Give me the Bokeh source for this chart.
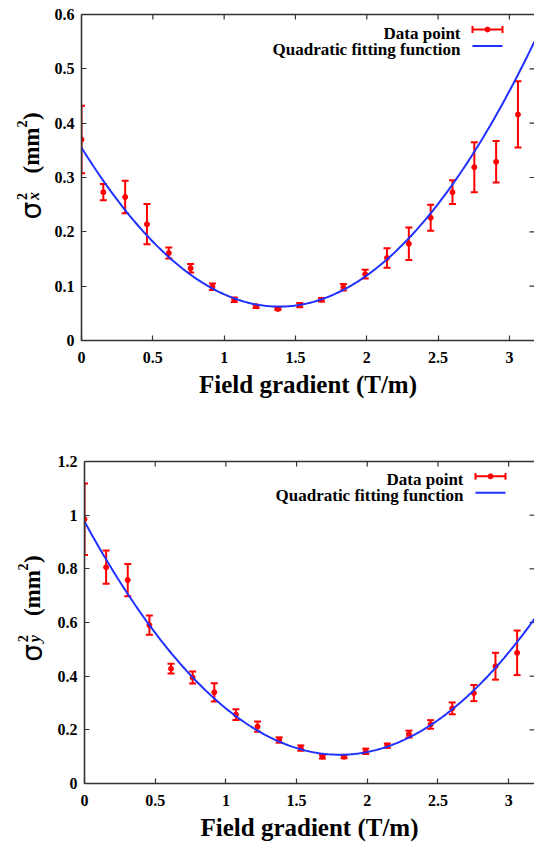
import numpy as np
from bokeh.plotting import figure
from bokeh.layouts import column, row
from bokeh.models import (Range1d, LinearAxis, FixedTicker, Whisker, TeeHead,
                          ColumnDataSource, Label)
from bokeh.embed import file_html
from bokeh.resources import INLINE

# ---------------- data ----------------
field_gradient = [0.000, 0.153, 0.306, 0.459, 0.612, 0.765, 0.918, 1.071, 1.224, 1.377,
                  1.530, 1.683, 1.836, 1.989, 2.142, 2.295, 2.448, 2.601, 2.754, 2.907, 3.060]

sigma_x2 = [0.370, 0.273, 0.264, 0.214, 0.161, 0.133, 0.099, 0.075, 0.063, 0.058,
            0.065, 0.075, 0.098, 0.122, 0.152, 0.178, 0.226, 0.273, 0.319, 0.329, 0.416]
sigma_x2_err = [0.062, 0.015, 0.030, 0.037, 0.010, 0.008, 0.006, 0.004, 0.003, 0.002,
                0.004, 0.003, 0.006, 0.008, 0.018, 0.030, 0.024, 0.022, 0.046, 0.038, 0.061]

sigma_y2 = [0.985, 0.806, 0.758, 0.590, 0.428, 0.395, 0.340, 0.257, 0.212, 0.162,
            0.132, 0.100, 0.100, 0.120, 0.141, 0.184, 0.220, 0.280, 0.337, 0.437, 0.487]
sigma_y2_err = [0.133, 0.062, 0.060, 0.036, 0.018, 0.022, 0.034, 0.020, 0.019, 0.010,
                0.010, 0.007, 0.006, 0.010, 0.008, 0.013, 0.016, 0.022, 0.030, 0.050, 0.083]

# quadratic fit coefficients c0 + c1*g + c2*g^2
fit_x_coeffs = [0.355, -0.4222, 0.1523]
fit_y_coeffs = [0.976, -0.9627, 0.2667]

x_ticks = [0, 0.5, 1, 1.5, 2, 2.5, 3]
x_tick_labels = ["0", "0.5", "1", "1.5", "2", "2.5", "3"]
yx_ticks = [0, 0.1, 0.2, 0.3, 0.4, 0.5, 0.6]
yx_tick_labels = ["0", "0.1", "0.2", "0.3", "0.4", "0.5", "0.6"]
yy_ticks = [0, 0.2, 0.4, 0.6, 0.8, 1, 1.2]
yy_tick_labels = ["0", "0.2", "0.4", "0.6", "0.8", "1", "1.2"]

legend_labels = ["Data point", "Quadratic fitting function"]
x_axis_label = "Field gradient (T/m)"

# ---------------- style ----------------
SERIF = "Liberation Serif"
RED = "#ff0000"
BLUE = "#2030ff"
AXIS = "#333333"
PAGE_W = 534
LW = 50          # width of the strip that carries the rotated y label
TICK = 5         # inward tick length, px


def make_row(height, frame_left, mbt, mbb, x_end, y_end, vals, errs, coeffs,
             yticks, ylabels, sub, lab_dx, lab_dy):
    W = PAGE_W - LW
    mbl = frame_left - LW
    fw = W - mbl
    fh = height - mbt - mbb
    xr = (0.0, x_end)
    yr = (0.0, y_end)
    px_x = (xr[1] - xr[0]) / fw
    px_y = (yr[1] - yr[0]) / fh

    def to_data(px, py):  # px from frame left, py from frame top
        return xr[0] + px * px_x, yr[1] - py * px_y

    p = figure(width=W, height=height, x_range=Range1d(*xr), y_range=Range1d(*yr),
               output_backend="svg", toolbar_location=None,
               min_border_left=mbl, min_border_right=0, min_border_top=mbt,
               min_border_bottom=mbb, outline_line_color=None)
    p.grid.visible = False

    def style(ax, ticks, labels):
        ax.ticker = FixedTicker(ticks=ticks)
        ax.major_label_overrides = dict(zip(ticks, labels))
        ax.major_tick_in = TICK
        ax.major_tick_out = 0
        ax.minor_tick_line_color = None
        ax.axis_line_color = AXIS
        ax.axis_line_width = 1.6
        ax.major_tick_line_color = AXIS
        ax.major_tick_line_width = 1.2
        ax.major_label_text_font = SERIF
        ax.major_label_text_font_style = "bold"
        ax.major_label_text_font_size = "16px"
        ax.major_label_text_color = "black"

    xa = p.xaxis[0]
    style(xa, x_ticks, x_tick_labels)
    xa.major_label_standoff = 11
    xa.axis_label = x_axis_label
    xa.axis_label_text_font = SERIF
    xa.axis_label_text_font_style = "bold"
    xa.axis_label_text_font_size = "25px"
    xa.axis_label_text_color = "black"
    xa.axis_label_standoff = 5

    ya = p.yaxis[0]
    style(ya, yticks, ylabels)
    ya.major_label_standoff = 7

    # top spine (no ticks/labels on the axis itself)
    top = LinearAxis(ticker=FixedTicker(ticks=[]), axis_line_color=AXIS, axis_line_width=1.6,
                     major_tick_line_color=None, minor_tick_line_color=None)
    p.add_layout(top, "above")

    # inward mirror ticks on top and right edges
    tx = [t for t in x_ticks if 0 < t < x_end]
    p.segment(x0=tx, y0=[y_end] * len(tx), x1=tx, y1=[y_end - TICK * px_y] * len(tx),
              line_color=AXIS, line_width=1.2)
    ty = [t for t in yticks if 0 < t < y_end]
    p.segment(x0=[x_end] * len(ty), y0=ty, x1=[x_end - TICK * px_x] * len(ty), y1=ty,
              line_color=AXIS, line_width=1.2)

    g = np.array(field_gradient)
    v = np.array(vals)
    e = np.array(errs)
    src = ColumnDataSource(dict(x=g, y=v, upper=v + e, lower=v - e))
    p.add_layout(Whisker(source=src, base="x", upper="upper", lower="lower",
                         line_color=RED, line_width=2,
                         upper_head=TeeHead(size=7, line_color=RED, line_width=2),
                         lower_head=TeeHead(size=7, line_color=RED, line_width=2)))
    p.scatter("x", "y", source=src, size=5, color=RED)

    gx = np.linspace(0, x_end, 300)
    fy = coeffs[0] + coeffs[1] * gx + coeffs[2] * gx ** 2
    p.line(gx, fy, line_color=BLUE, line_width=2)

    # ----- gnuplot-style legend (text right, sample right of it) -----
    tr = 455 - 76          # text right edge, px from frame left
    for i, lab in enumerate(legend_labels):
        x, y = to_data(tr, 18.5 + 16 * i)
        p.add_layout(Label(x=x, y=y, text=lab, text_font=SERIF, text_font_style="bold",
                           text_font_size="17px", text_align="right",
                           text_baseline="alphabetic", text_color="black"))
    s0, s1 = tr + 12, tr + 42
    x0, y0 = to_data(s0, 15)
    x1, _ = to_data(s1, 15)
    cap = 3.5 * px_y
    p.segment(x0=[x0], y0=[y0], x1=[x1], y1=[y0], line_color=RED, line_width=2)
    p.segment(x0=[x0, x1], y0=[y0 - cap] * 2, x1=[x0, x1], y1=[y0 + cap] * 2,
              line_color=RED, line_width=2)
    p.scatter(x=[(x0 + x1) / 2], y=[y0], size=5, color=RED)
    bx0, by = to_data(s0, 31.5)
    bx1, _ = to_data(s1, 31.5)
    p.line([bx0, bx1], [by, by], line_color=BLUE, line_width=2)

    # ----- strip with the rotated y-axis label (frame aligned with p's frame) -----
    q = figure(width=LW, height=height, x_range=Range1d(0, LW), y_range=Range1d(0, fh),
               output_backend="svg", toolbar_location=None, x_axis_type=None,
               y_axis_type=None, min_border_left=0, min_border_right=0,
               min_border_top=mbt, min_border_bottom=mbb, outline_line_color=None)
    q.grid.visible = False

    def rot(x, dy, text, font, size, fstyle="bold"):
        q.add_layout(Label(x=x + lab_dx, y=dy + lab_dy, text=text, text_font=font,
                           text_font_style=fstyle, text_font_size=size, angle=np.pi / 2,
                           text_align="left", text_baseline="alphabetic",
                           text_color="black"))

    rot(31, 121, "σ", "DejaVu Sans", "28px", "normal")
    rot(21, 140.5, "2", SERIF, "14px")
    rot(33, 140.5, sub, SERIF, "16px", "bold italic")
    rot(31, 167, "(mm", SERIF, "23px")
    rot(21, 213, "2", SERIF, "14px")
    rot(31, 220.5, ")", SERIF, "23px")
    return row(q, p, spacing=0)


r1 = make_row(height=445, frame_left=81, mbt=14, mbb=105, x_end=3.176, y_end=0.6,
              vals=sigma_x2, errs=sigma_x2_err, coeffs=fit_x_coeffs,
              yticks=yx_ticks, ylabels=yx_tick_labels, sub="x", lab_dx=0, lab_dy=0)
r2 = make_row(height=398, frame_left=84, mbt=16, mbb=57, x_end=3.183, y_end=1.2,
              vals=sigma_y2, errs=sigma_y2_err, coeffs=fit_y_coeffs,
              yticks=yy_ticks, ylabels=yy_tick_labels, sub="y", lab_dx=1, lab_dy=2)

layout = column(r1, r2, spacing=0)
open("out.html", "w").write(file_html(layout, INLINE))
